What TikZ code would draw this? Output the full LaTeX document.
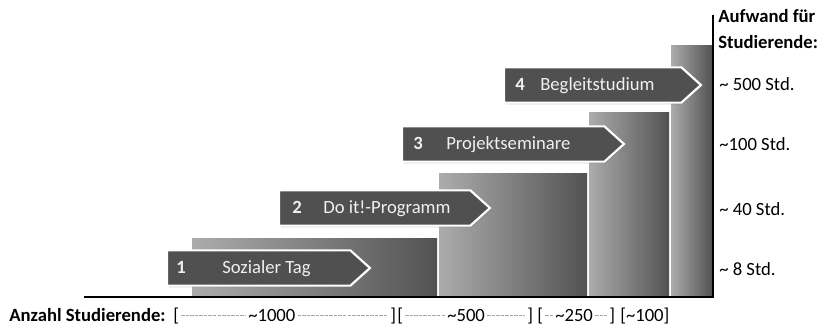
\documentclass[tikz,border=0pt]{standalone}
\usepackage{fontspec}
\setmainfont{Carlito}
\usepackage{tikz}
\usetikzlibrary{shapes.symbols,shadows}
\definecolor{barlight}{RGB}{172,172,172}
\definecolor{bardark}{RGB}{82,82,82}
\definecolor{bannerink}{RGB}{80,80,80}
\definecolor{dashink}{RGB}{165,165,165}

\begin{document}
\begin{tikzpicture}[x=0.75pt,y=-0.75pt,
    banner/.style={signal, signal to=east, signal pointer angle=84, draw=white,
        line width=1.6pt, fill=bannerink, inner sep=0pt, minimum height=26.5pt,
        drop shadow={shadow xshift=1.2pt, shadow yshift=-1.2pt, opacity=0.35}},
    stepnum/.style={font=\fontsize{14}{16}\selectfont\bfseries, text=white!94!black, inner sep=0pt, anchor=base},
    steptext/.style={font=\fontsize{14}{16}\selectfont, text=white!94!black, inner sep=0pt, anchor=base west},
    hours/.style={font=\fontsize{14}{16}\selectfont, inner sep=0pt, anchor=base west},
    axislabel/.style={font=\fontsize{14}{16}\selectfont\bfseries, inner sep=0pt, anchor=base west},
    countlabel/.style={font=\fontsize{14}{16}\selectfont, inner sep=0pt, anchor=base west},
    dashline/.style={dashink, line width=0.6pt, dash pattern=on 2.6pt off 0.8pt, shorten <=1.5pt, shorten >=1.5pt}]
    \useasboundingbox (0,0) rectangle (827,327);

    % Stairs: one shaded bar per step
    \foreach \i/\xl/\xr/\yt in {1/192/437/239, 2/439/587/174, 3/589/669/113, 4/671/712/46} {
        \shade[left color=barlight, right color=bardark] (\xl,\yt) rectangle (\xr,296);
    }

    % Axes
    \coordinate (origin) at (84,297);
    \coordinate (corner) at (713,297);
    \coordinate (axistop) at (713,15);
    \draw[line width=0.8pt] (origin) -- (corner) -- (axistop);

    % Banners with step number and name
    \foreach \n/\xl/\xr/\yc/\xn/\xt/\lbl in {1/165/370/268/181/222/Sozialer Tag,
            2/277/490/208/297/323/Do it!-Programm,
            3/400/624/144/418/446/Projektseminare,
            4/502/701/85/520/540/Begleitstudium} {
        \pgfmathsetmacro{\bw}{(\xr-\xl)*0.75-1.6}
        \node[banner, minimum width=\bw pt, anchor=west] (banner\n) at (\xl+1,\yc) {};
        \node[stepnum] (num\n) at (\xn,\yc+6) {\n};
        \node[steptext] (name\n) at (\xt,\yc+6) {\lbl};
    }

    % Effort per step
    \node[axislabel] (efforttitle) at (718,23) {Aufwand für};
    \node[axislabel] (effortsub) at (718,49) {Studierende:};
    \foreach \k/\yb/\txt in {4/91/\textasciitilde{} 500 Std., 3/151/\textasciitilde100 Std.,
            2/216/\textasciitilde{} 40 Std., 1/276/\textasciitilde{} 8 Std.} {
        \node[hours] (hours\k) at (719,\yb) {\txt};
    }

    % Number of students
    \node[axislabel] (counttitle) at (9,321) {Anzahl Studierende:};
    \node[countlabel] (lb1) at (173,321) {[};
    \node[countlabel] (cnt1) at (248,321) {\textasciitilde1000};
    \node[countlabel] (rb1) at (390,321) {]};
    \node[countlabel] (lb2) at (397,321) {[};
    \node[countlabel] (cnt2) at (447,321) {\textasciitilde500};
    \node[countlabel] (rb2) at (527,321) {]};
    \node[countlabel] (lb3) at (537,321) {[};
    \node[countlabel] (cnt3) at (555,321) {\textasciitilde250};
    \node[countlabel] (rb3) at (609,321) {]};
    \node[countlabel] (cnt4) at (620,321) {[\textasciitilde100]};
    \foreach \j in {1,2,3} {
        \draw[dashline] (lb\j.east) -- (lb\j.east -| cnt\j.west);
        \draw[dashline] (cnt\j.east |- rb\j.west) -- (rb\j.west);
    }
\end{tikzpicture}
\end{document}
